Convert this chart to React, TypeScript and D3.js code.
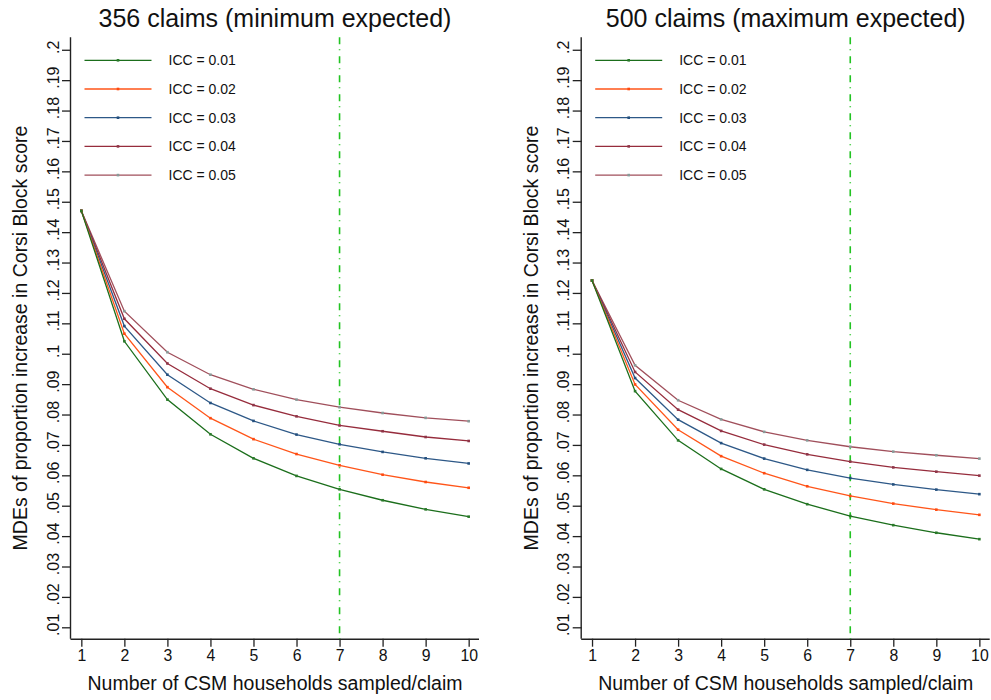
import React, { useRef, useEffect } from "react";
import * as d3 from "d3";

// households sampled per claim
const households = [1, 2, 3, 4, 5, 6, 7, 8, 9, 10];
const iccLabels = ["ICC = 0.01", "ICC = 0.02", "ICC = 0.03", "ICC = 0.04", "ICC = 0.05"];
const iccColors = ["#1b6e1b", "#ff5519", "#2d5887", "#962c3c", "#a04f5b"];
const markerColors = ["#2a7a2a", "#ff4a10", "#24507e", "#8e3548", "#889a98"];

// 356 claims (minimum expected)
const min356Icc01 = [0.147, 0.1041, 0.0849, 0.0735, 0.0656, 0.0598, 0.0554, 0.0518, 0.0488, 0.0464];
const min356Icc02 = [0.147, 0.1066, 0.089, 0.0788, 0.0719, 0.067, 0.0633, 0.0602, 0.0578, 0.0559];
const min356Icc03 = [0.147, 0.1091, 0.0931, 0.0838, 0.0779, 0.0734, 0.0702, 0.0677, 0.0656, 0.0639];
const min356Icc04 = [0.147, 0.1115, 0.0968, 0.0885, 0.0831, 0.0794, 0.0764, 0.0745, 0.0726, 0.0713];
const min356Icc05 = [0.147, 0.114, 0.1005, 0.0931, 0.0883, 0.0849, 0.0824, 0.0805, 0.0789, 0.0778];

// 500 claims (maximum expected)
const max500Icc01 = [0.1241, 0.0877, 0.0715, 0.0621, 0.0554, 0.0505, 0.0466, 0.0436, 0.0411, 0.039];
const max500Icc02 = [0.1241, 0.0899, 0.075, 0.0663, 0.0607, 0.0564, 0.0532, 0.0507, 0.0487, 0.047];
const max500Icc03 = [0.1241, 0.092, 0.0783, 0.0706, 0.0655, 0.0618, 0.0591, 0.057, 0.0553, 0.0538];
const max500Icc04 = [0.1241, 0.094, 0.0816, 0.0746, 0.0701, 0.0669, 0.0645, 0.0626, 0.0612, 0.0599];
const max500Icc05 = [0.1241, 0.0962, 0.0847, 0.0784, 0.0743, 0.0715, 0.0694, 0.0678, 0.0666, 0.0655];

const yTicks = d3.range(1, 21).map((d) => d / 100);
const cutoff = 7;

const panelTitles = ["356 claims (minimum expected)", "500 claims (maximum expected)"];
const panelSeries = [
  [min356Icc01, min356Icc02, min356Icc03, min356Icc04, min356Icc05],
  [max500Icc01, max500Icc02, max500Icc03, max500Icc04, max500Icc05],
];

const yLabel = "MDEs of proportion increase in Corsi Block score";
const xLabel = "Number of CSM households sampled/claim";

// stata style: .01, .1, .2
const fmt = (v) => String(+v.toFixed(2)).replace(/^0/, "");

const App = () => {
  const svgRef = useRef();

  useEffect(() => {
    const width = 991;
    const height = 700;
    const font = "'Liberation Sans', Arial, Helvetica, sans-serif";

    const svg = d3.select(svgRef.current);
    svg.selectAll("*").remove();
    svg.attr("width", width).attr("height", height).style("font-family", font);

    const offsets = [71, 581.7];
    const plotW = 408;
    const top = 37.3;
    const bottom = 638.7;

    panelSeries.forEach((series, p) => {
      const left = offsets[p];
      const g = svg.append("g");

      const x = d3.scaleLinear().domain([0.76, 10.24]).range([left, left + plotW]);
      const y = d3.scaleLinear().domain([0.00625, 0.2041]).range([bottom, top]);

      // title
      g.append("text")
        .attr("x", left + plotW / 2)
        .attr("y", 27)
        .attr("text-anchor", "middle")
        .style("font-size", "25px")
        .attr("fill", "#111")
        .text(panelTitles[p]);

      // y axis
      const yAxis = g
        .append("g")
        .attr("transform", `translate(${left},0)`)
        .call(d3.axisLeft(y).tickValues(yTicks).tickSize(9).tickFormat(() => ""));
      yAxis.select(".domain").attr("d", `M-0.5,${top}V${bottom}`).attr("stroke", "#222").attr("stroke-width", 1.4);
      yAxis.selectAll(".tick line").attr("stroke", "#222").attr("stroke-width", 1.3);

      g.append("g")
        .selectAll("text")
        .data(yTicks)
        .join("text")
        .attr("transform", (d) => `translate(${left - 12.5},${y(d) - 2.5}) rotate(-90)`)
        .attr("text-anchor", "middle")
        .style("font-size", "16px")
        .attr("fill", "#111")
        .text(fmt);

      // x axis
      const xAxis = g
        .append("g")
        .attr("transform", `translate(0,${bottom})`)
        .call(d3.axisBottom(x).tickValues(households).tickSize(8).tickPadding(3).tickFormat(d3.format("d")));
      xAxis.select(".domain").attr("d", `M${left - 0.5},0.5H${left + plotW}`).attr("stroke", "#222").attr("stroke-width", 1.4);
      xAxis.selectAll(".tick line").attr("stroke", "#222").attr("stroke-width", 1.3);
      xAxis.selectAll(".tick text").style("font-size", "15.8px").style("font-family", font).attr("fill", "#111");

      // axis titles
      g.append("text")
        .attr("transform", `translate(${left - 44},${(top + bottom) / 2}) rotate(-90)`)
        .attr("text-anchor", "middle")
        .style("font-size", "19.5px")
        .attr("fill", "#111")
        .text(yLabel);

      g.append("text")
        .attr("x", x(5.5))
        .attr("y", 690)
        .attr("text-anchor", "middle")
        .style("font-size", "19.5px")
        .attr("fill", "#111")
        .text(xLabel);

      // reference line at 7 households
      g.append("line")
        .attr("x1", x(cutoff))
        .attr("x2", x(cutoff))
        .attr("y1", top)
        .attr("y2", bottom)
        .attr("stroke", "#22c322")
        .attr("stroke-width", 1.6)
        .attr("stroke-dasharray", "7 5 1 6");

      // series, drawn 0.05 first so 0.01 sits on top
      const line = d3
        .line()
        .x((d, i) => x(households[i]))
        .y((d) => y(d));

      const order = [4, 3, 2, 1, 0];
      order.forEach((s) => {
        g.append("path")
          .datum(series[s])
          .attr("fill", "none")
          .attr("stroke", iccColors[s])
          .attr("stroke-width", 1.3)
          .attr("d", line);
        g.append("g")
          .selectAll("rect")
          .data(series[s])
          .join("rect")
          .attr("x", (d, i) => x(households[i]) - 1.3)
          .attr("y", (d) => y(d) - 1.3)
          .attr("width", 2.6)
          .attr("height", 2.6)
          .attr("fill", markerColors[s]);
      });

      // legend
      const legend = g.append("g");
      iccLabels.forEach((lab, i) => {
        const ly = 60.3 + i * 28.7;
        const lx = left + 13.5;
        legend.append("line")
          .attr("x1", lx)
          .attr("x2", lx + 67)
          .attr("y1", ly)
          .attr("y2", ly)
          .attr("stroke", iccColors[i])
          .attr("stroke-width", 1.3);
        legend.append("rect")
          .attr("x", lx + 33.5 - 1.3)
          .attr("y", ly - 1.3)
          .attr("width", 2.6)
          .attr("height", 2.6)
          .attr("fill", markerColors[i]);
        legend.append("text")
          .attr("x", lx + 84)
          .attr("y", ly + 5)
          .style("font-size", "14px")
          .attr("fill", "#111")
          .text(lab);
      });
    });
  }, []);

  return (
    <div style={{ position: "absolute", left: 0, top: 0, background: "#fff" }}>
      <svg ref={svgRef}></svg>
    </div>
  );
};

export default App;
